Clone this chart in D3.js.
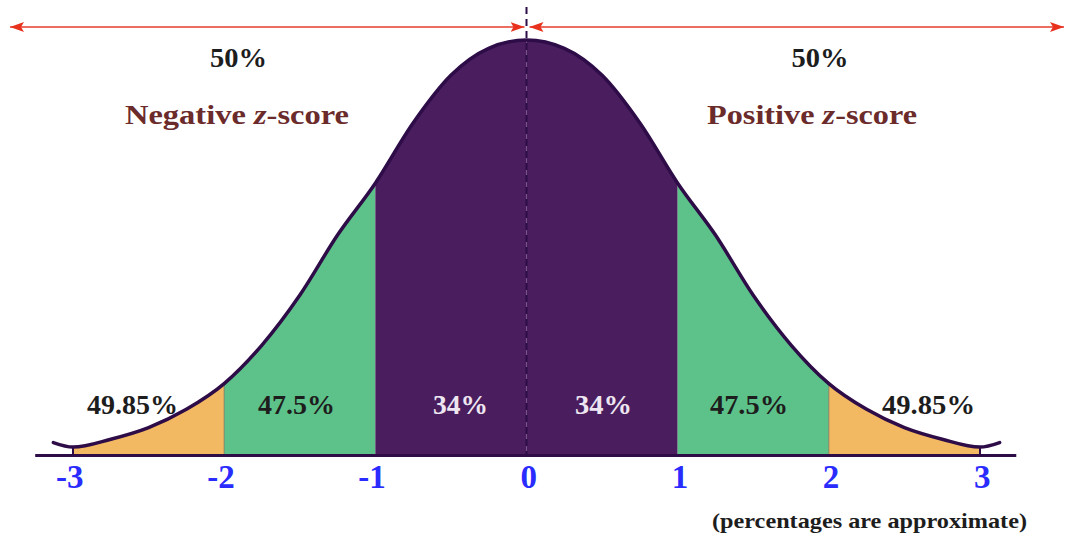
<!DOCTYPE html>
<html><head><meta charset="utf-8">
<script src="https://cdn.jsdelivr.net/npm/d3@7"></script>
<style>html,body{margin:0;padding:0;background:#fff;}svg{display:block}</style>
</head><body>
<svg id="chart" width="1065" height="540"></svg>
<script>
// ---------------- data ----------------
const zTicks = [-3, -2, -1, 0, 1, 2, 3];
const tickLabels = ["-3", "-2", "-1", "0", "1", "2", "3"];
const curveZ = [-3.13, -3, -2.75, -2.5, -2.25, -2, -1.75, -1.5, -1.25, -1, -0.75, -0.5, -0.25, 0,
                0.25, 0.5, 0.75, 1, 1.25, 1.5, 1.75, 2, 2.25, 2.5, 2.75, 3, 3.13];
const curveH = [0.030, 0.019, 0.038, 0.066, 0.110, 0.172, 0.265, 0.385, 0.530, 0.655, 0.800, 0.915, 0.980, 1.000,
                0.980, 0.915, 0.800, 0.655, 0.530, 0.385, 0.265, 0.172, 0.110, 0.066, 0.038, 0.019, 0.030];
const regionStart = [-3, -2, -1, 0, 1, 2];
const regionEnd = [-2, -1, 0, 1, 2, 3];
const regionKind = ["tail", "middle", "center", "center", "middle", "tail"];
const regionLabels = ["49.85%", "47.5%", "34%", "34%", "47.5%", "49.85%"];
const sideShares = ["50%", "50%"];
const sideNames = ["Negative", "Positive"];
const footnote = "(percentages are approximate)";

// ---------------- layout / style ----------------
const svg = d3.select("#chart");
const x = d3.scaleLinear().domain([-3, 3]).range([73, 980]);
const y = d3.scaleLinear().domain([0, 1]).range([455, 40]);
const kindColor = { tail: "#f3b862", middle: "#5dc28a", center: "#4a1e5e" };
const ink = "#2d0c47";
const serif = "'Liberation Serif', 'Times New Roman', serif";

const pts = curveZ.map((z, i) => ({ z, h: curveH[i] }));
const area = d3.area().x(d => x(d.z)).y0(y(0)).y1(d => y(d.h)).curve(d3.curveMonotoneX);
const line = d3.line().x(d => x(d.z)).y(d => y(d.h)).curve(d3.curveMonotoneX);

const defs = svg.append("defs");
regionStart.forEach((s, i) => {
  defs.append("clipPath").attr("id", "clip" + i)
    .append("rect")
    .attr("x", x(s)).attr("y", 0)
    .attr("width", x(regionEnd[i]) - x(s)).attr("height", y(0));
});
defs.append("marker").attr("id", "arrow")
  .attr("viewBox", "0 0 14 10").attr("refX", 14).attr("refY", 5)
  .attr("markerWidth", 14).attr("markerHeight", 10)
  .attr("markerUnits", "userSpaceOnUse")
  .attr("orient", "auto-start-reverse")
  .append("path").attr("d", "M0,0 L14,5 L0,10 L3,5 Z").attr("fill", "#e8321e");

// region fills
regionStart.forEach((s, i) => {
  svg.append("path").datum(pts)
    .attr("d", area)
    .attr("fill", kindColor[regionKind[i]])
    .attr("clip-path", `url(#clip${i})`);
});

// boundary lines between green and orange
[-2, 2].forEach(z => {
  const h = curveH[curveZ.indexOf(z)];
  svg.append("line").attr("x1", x(z)).attr("x2", x(z))
    .attr("y1", y(h)).attr("y2", y(0))
    .attr("stroke", "#6f6a55").attr("stroke-width", 1).attr("opacity", 0.7);
});
// end ticks at -3 and 3
[-3, 3].forEach(z => {
  const h = curveH[curveZ.indexOf(z)];
  svg.append("line").attr("x1", x(z)).attr("x2", x(z))
    .attr("y1", y(h)).attr("y2", y(0))
    .attr("stroke", ink).attr("stroke-width", 2);
});

// dashed centre line
svg.append("line").attr("x1", x(0)).attr("x2", x(0))
  .attr("y1", 7).attr("y2", y(0))
  .attr("stroke", ink).attr("stroke-width", 2).attr("stroke-dasharray", "7,5");

// curve outline
svg.append("path").datum(pts).attr("d", line)
  .attr("fill", "none").attr("stroke", ink).attr("stroke-width", 3.5)
  .attr("stroke-linecap", "round");

// baseline / axis
const axisG = svg.append("g").attr("transform", `translate(0,${y(0)})`)
  .call(d3.axisBottom(x).tickValues(zTicks).tickFormat((d, i) => tickLabels[i]).tickSize(0));
axisG.select(".domain").remove();
axisG.append("line").attr("x1", x(-3.25)).attr("x2", x(3.24)).attr("y1", 0.5).attr("y2", 0.5)
  .attr("stroke", ink).attr("stroke-width", 3);
axisG.selectAll(".tick text")
  .attr("x", 10).attr("y", 33).attr("dy", 0)
  .attr("text-anchor", "end")
  .attr("fill", "#2a2cff")
  .style("font-family", serif).style("font-weight", "bold").style("font-size", "33px");

// arrows at the top
const arrowY = 27;
[[10, x(0) - 2], [x(0) + 3, 1064]].forEach(([a, b]) => {
  svg.append("line").attr("x1", a).attr("x2", b).attr("y1", arrowY).attr("y2", arrowY)
    .attr("stroke", "#ec6d62").attr("stroke-width", 1.8)
    .attr("marker-start", "url(#arrow)").attr("marker-end", "url(#arrow)");
});

// side texts
const shareX = [238.5, 820];
const nameX = [237, 812];
const nameW = [224, 210];
sideShares.forEach((t, i) => {
  svg.append("text").attr("x", shareX[i]).attr("y", 67)
    .attr("text-anchor", "middle")
    .attr("textLength", 57).attr("lengthAdjust", "spacingAndGlyphs")
    .attr("fill", "#1d1d1d")
    .style("font-family", serif).style("font-weight", "bold").style("font-size", "28px")
    .text(t);
});
sideNames.forEach((t, i) => {
  const tx = svg.append("text").attr("x", nameX[i]).attr("y", 124)
    .attr("text-anchor", "middle")
    .attr("textLength", nameW[i]).attr("lengthAdjust", "spacingAndGlyphs")
    .attr("fill", "#6b2b2b")
    .style("font-family", serif).style("font-weight", "bold").style("font-size", "28px");
  tx.append("tspan").text(t + " ");
  tx.append("tspan").style("font-style", "italic").text("z");
  tx.append("tspan").text("-score");
});

// region labels
const labelX = [132.5, 296.5, 460.5, 603.5, 749, 928.5];
const labelW = [91, 77, 55, 57, 78, 93];
regionLabels.forEach((t, i) => {
  svg.append("text").attr("x", labelX[i]).attr("y", 414)
    .attr("text-anchor", "middle")
    .attr("textLength", labelW[i]).attr("lengthAdjust", "spacingAndGlyphs")
    .attr("fill", regionKind[i] === "center" ? "#eee6f0" : "#1d1d1d")
    .style("font-family", serif).style("font-weight", "bold").style("font-size", "27px")
    .text(t);
});

// footnote
svg.append("text").attr("x", 1027).attr("y", 528)
  .attr("text-anchor", "end")
  .attr("textLength", 315).attr("lengthAdjust", "spacingAndGlyphs")
  .attr("fill", "#1d1d1d")
  .style("font-family", serif).style("font-weight", "bold").style("font-size", "21px")
  .text(footnote);
</script>
</body></html>
